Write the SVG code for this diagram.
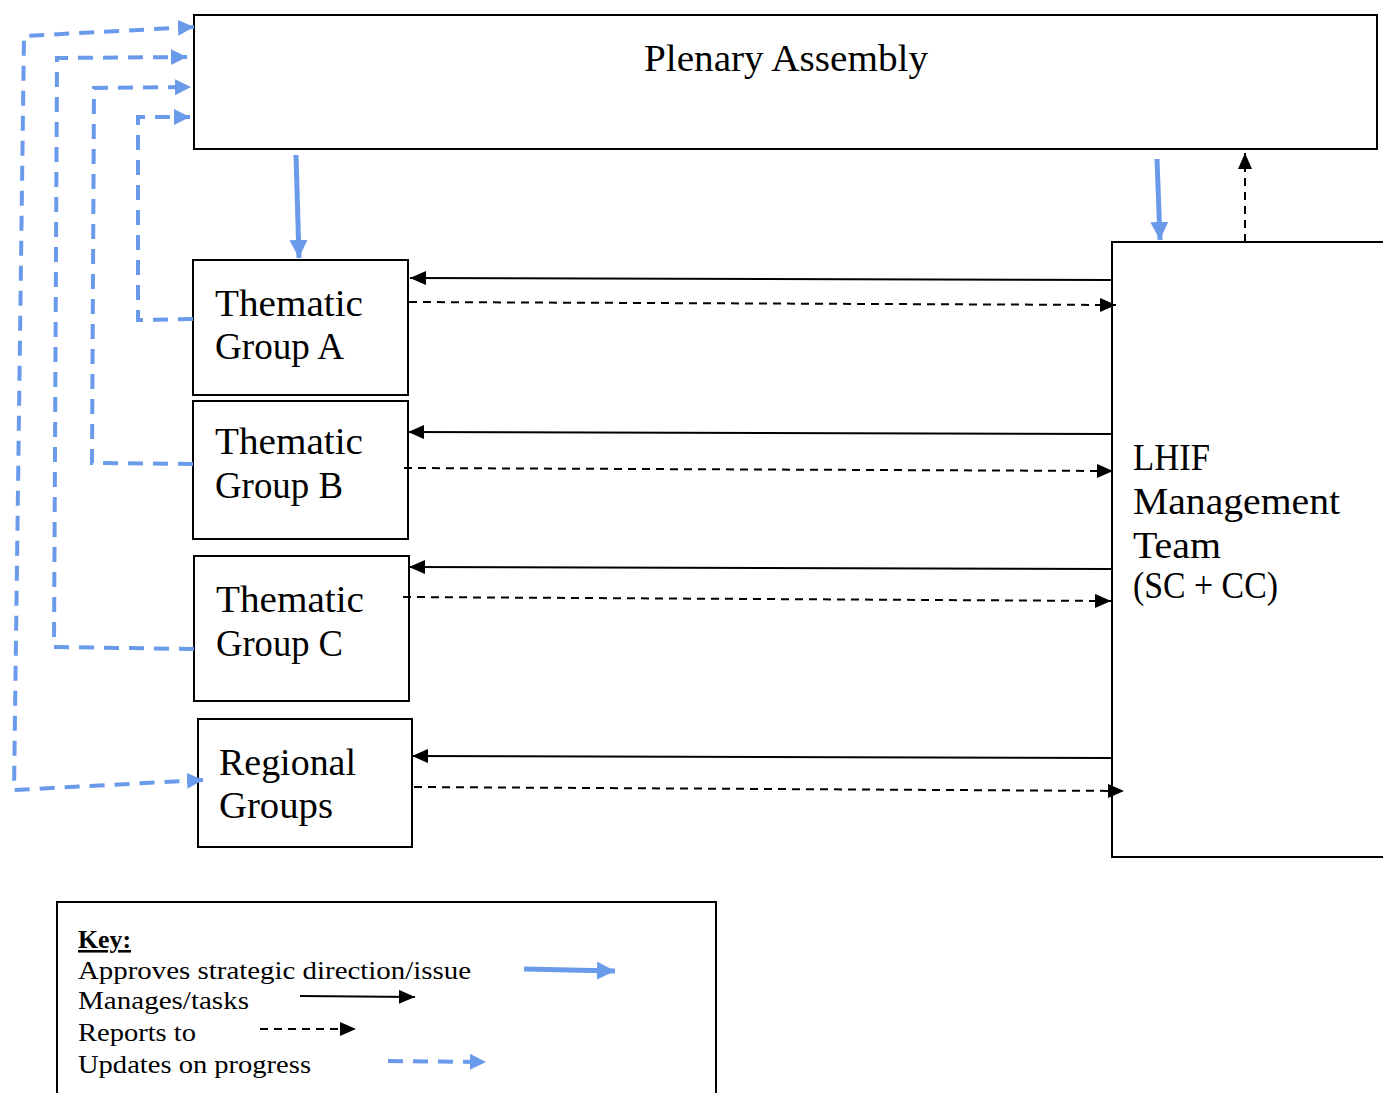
<svg xmlns="http://www.w3.org/2000/svg" width="1383" height="1093" viewBox="0 0 1383 1093">
<style>
.box{fill:#fff;stroke:#000;stroke-width:2}
.lbl{font-family:"Liberation Serif","DejaVu Serif",serif;font-size:38px;fill:#000}
.key{font-family:"Liberation Serif","DejaVu Serif",serif;font-size:25.5px;fill:#000}
.bd{fill:none;stroke:#6a9bea;stroke-width:4;stroke-dasharray:15 10}
.bs{fill:none;stroke:#6a9bea;stroke-width:5}
.ks{fill:none;stroke:#000;stroke-width:2}
.kd{fill:none;stroke:#000;stroke-width:2;stroke-dasharray:8 6}
</style>
<defs>
<marker id="mb" markerUnits="userSpaceOnUse" markerWidth="18" markerHeight="18" refX="16" refY="8" orient="auto-start-reverse"><path d="M0,0 L16,8 L0,16 z" fill="#6a9bea"/></marker>
<marker id="mbs" markerUnits="userSpaceOnUse" markerWidth="20" markerHeight="20" refX="18" refY="9" orient="auto"><path d="M0,0 L18,9 L0,18 z" fill="#6a9bea"/></marker>
<marker id="mk" markerUnits="userSpaceOnUse" markerWidth="17" markerHeight="15" refX="16" refY="7" orient="auto"><path d="M0,0 L16,7 L0,14 z" fill="#000"/></marker>
</defs>

<g id="plenary">
<rect class="box" x="194" y="15" width="1183" height="134"/>
<text class="lbl" x="644" y="71" textLength="284" lengthAdjust="spacingAndGlyphs">Plenary Assembly</text>
</g>
<g id="groupA">
<rect class="box" x="193" y="260" width="215" height="135"/>
<text class="lbl" x="215" y="316" textLength="148" lengthAdjust="spacingAndGlyphs">Thematic</text>
<text class="lbl" x="215" y="359" textLength="129" lengthAdjust="spacingAndGlyphs">Group A</text>
</g>
<g id="groupB">
<rect class="box" x="193" y="401" width="215" height="138"/>
<text class="lbl" x="215" y="454" textLength="148" lengthAdjust="spacingAndGlyphs">Thematic</text>
<text class="lbl" x="215" y="498" textLength="128" lengthAdjust="spacingAndGlyphs">Group B</text>
</g>
<g id="groupC">
<rect class="box" x="194" y="556" width="215" height="145"/>
<text class="lbl" x="216" y="612" textLength="148" lengthAdjust="spacingAndGlyphs">Thematic</text>
<text class="lbl" x="216" y="656" textLength="127" lengthAdjust="spacingAndGlyphs">Group C</text>
</g>
<g id="regional">
<rect class="box" x="198" y="719" width="214" height="128"/>
<text class="lbl" x="219" y="775" textLength="137" lengthAdjust="spacingAndGlyphs">Regional</text>
<text class="lbl" x="219" y="818" textLength="114" lengthAdjust="spacingAndGlyphs">Groups</text>
</g>
<g id="lhif">
<rect class="box" x="1112" y="242" width="290" height="615"/>
<text class="lbl" x="1133" y="470" textLength="77" lengthAdjust="spacingAndGlyphs">LHIF</text>
<text class="lbl" x="1133" y="514" textLength="207" lengthAdjust="spacingAndGlyphs">Management</text>
<text class="lbl" x="1133" y="558" textLength="88" lengthAdjust="spacingAndGlyphs">Team</text>
<text class="lbl" x="1133" y="598" textLength="145" lengthAdjust="spacingAndGlyphs">(SC + CC)</text>
</g>

<g id="connectors">
<path class="bs" d="M296,155 L299,258" marker-end="url(#mbs)"/>
<path class="bs" d="M1157,159 L1160,240" marker-end="url(#mbs)"/>
<path class="kd" d="M1245,242 L1245,153" marker-end="url(#mk)"/>

<path class="ks" d="M1112,280 L410,278" marker-end="url(#mk)"/>
<path class="ks" d="M1111,434 L408,432" marker-end="url(#mk)"/>
<path class="ks" d="M1111,569 L409,567" marker-end="url(#mk)"/>
<path class="ks" d="M1112,758 L412,756" marker-end="url(#mk)"/>

<path class="kd" d="M409,302 L1116,305" marker-end="url(#mk)"/>
<path class="kd" d="M404,468 L1113,471" marker-end="url(#mk)"/>
<path class="kd" d="M403,597 L1111,601" marker-end="url(#mk)"/>
<path class="kd" d="M414,787 L1124,791" marker-end="url(#mk)"/>

<path class="bd" d="M194,27 L24,36 L14,790 L203,780" marker-start="url(#mb)" marker-end="url(#mb)"/>
<path class="bd" d="M194,649 L54,647 L57,58 L187,57" marker-end="url(#mb)"/>
<path class="bd" d="M193,464 L92,463 L94,88 L191,87" marker-end="url(#mb)"/>
<path class="bd" d="M193,319 L138,320 L138,117 L190,117" marker-end="url(#mb)"/>
</g>

<g id="key">
<rect class="box" x="57" y="902" width="659" height="200"/>
<text class="key" x="78" y="948" font-weight="bold" text-decoration="underline" textLength="53" lengthAdjust="spacingAndGlyphs">Key:</text>
<text class="key" x="78" y="979" textLength="393" lengthAdjust="spacingAndGlyphs">Approves strategic direction/issue</text>
<text class="key" x="78" y="1009" textLength="171" lengthAdjust="spacingAndGlyphs">Manages/tasks</text>
<text class="key" x="78" y="1041" textLength="118" lengthAdjust="spacingAndGlyphs">Reports to</text>
<text class="key" x="78" y="1073" textLength="233" lengthAdjust="spacingAndGlyphs">Updates on progress</text>
<path class="bs" d="M524,969 L615,971" marker-end="url(#mbs)"/>
<path class="ks" d="M300,996 L415,997" marker-end="url(#mk)"/>
<path class="kd" d="M260,1029 L356,1029" marker-end="url(#mk)"/>
<path class="bd" d="M388,1061 L486,1062" marker-end="url(#mb)"/>
</g>
</svg>
